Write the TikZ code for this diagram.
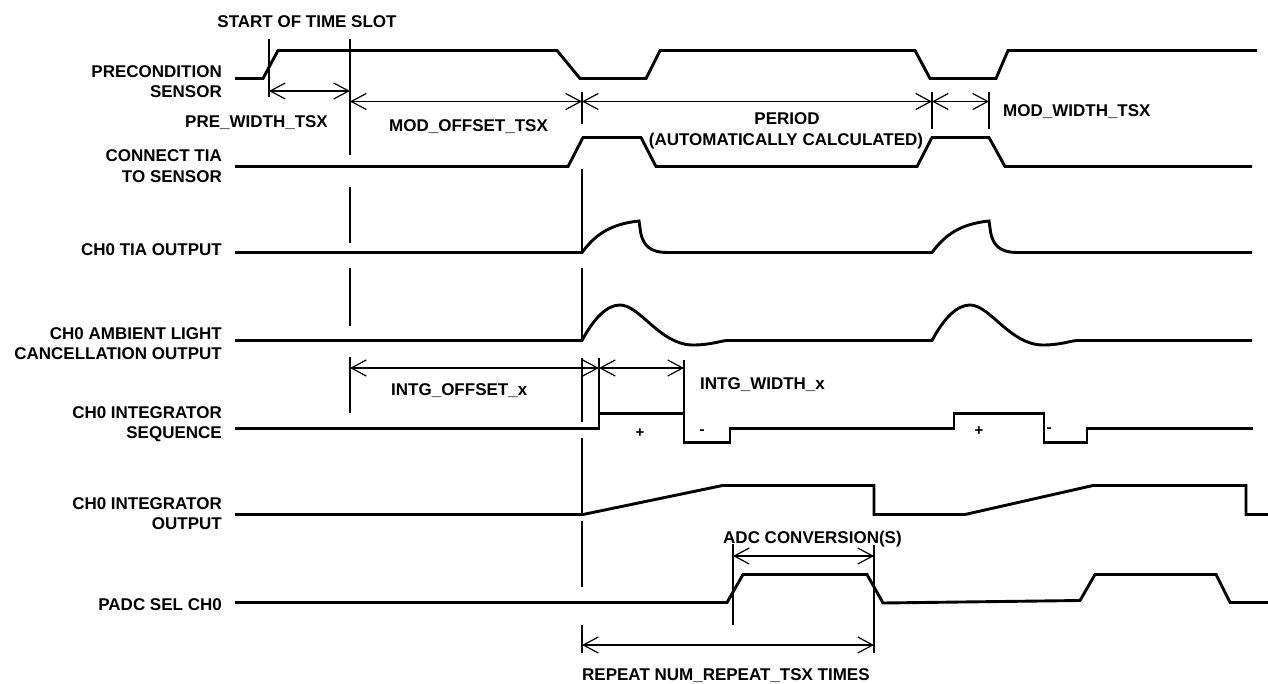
\documentclass[tikz,border=0pt]{standalone}
\usepackage{fontspec}
\setmainfont{Liberation Sans}
\usetikzlibrary{arrows.meta}
\begin{document}
\begin{tikzpicture}[x=1pt,y=-1pt,
  sig/.style={line width=2.9pt, line join=miter},
  thinline/.style={line width=1.2pt},
  dimline/.style={line width=1.2pt, {Straight Barb[length=15pt,width=16pt]}-{Straight Barb[length=15pt,width=16pt]}},
  lbl/.style={font=\fontsize{17}{20}\selectfont\bfseries, inner sep=0pt, anchor=base east},
  ann/.style={font=\fontsize{17}{20}\selectfont\bfseries, inner sep=0pt, anchor=base west},
  annc/.style={font=\fontsize{17}{20}\selectfont\bfseries, inner sep=0pt, anchor=base},
  sgn/.style={font=\fontsize{15}{17}\selectfont\bfseries, inner sep=0pt, anchor=center}]
\useasboundingbox (0,0) rectangle (1268,684);

% ---------- signal labels ----------
\node[lbl] (l1a) at (222,78) {PRECONDITION};
\node[lbl] (l1b) at (222,98) {SENSOR};
\node[lbl] (l2a) at (222,162) {CONNECT TIA};
\node[lbl] (l2b) at (222,183) {TO SENSOR};
\node[lbl] (l3)  at (222,256) {CH0 TIA OUTPUT};
\node[lbl] (l4a) at (222,339) {CH0 AMBIENT LIGHT};
\node[lbl] (l4b) at (222,359) {CANCELLATION OUTPUT};
\node[lbl] (l5a) at (222,418) {CH0 INTEGRATOR};
\node[lbl] (l5b) at (222,438) {SEQUENCE};
\node[lbl] (l6a) at (222,509) {CH0 INTEGRATOR};
\node[lbl] (l6b) at (222,529) {OUTPUT};
\node[lbl] (l7)  at (222,610) {PADC SEL CH0};

% ---------- waveforms ----------
% precondition sensor
\draw[sig] (235,78.5) -- (263,78.5) -- (278,50.5) -- (557,50.5) -- (580,78.5) -- (646,78.5) -- (660,50.5)
  -- (915,50.5) -- (930,78.5) -- (996,78.5) -- (1008,50.5) -- (1257,50.5);
% connect TIA to sensor
\draw[sig] (235,166.5) -- (568,166.5) -- (583,137.5) -- (641,137.5) -- (656,166.5) -- (917,166.5)
  -- (932,137.5) -- (989,137.5) -- (1005,166.5) -- (1252,166.5);
% CH0 TIA output
\draw[sig] (235,252.5) -- (582,252.5) .. controls (595,235) and (610,224) .. (639,221)
  -- (640,228) .. controls (642,246) and (650,252.5) .. (668,252.5) -- (932,252.5)
  .. controls (945,235) and (960,224) .. (989,221)
  -- (990,228) .. controls (992,246) and (1000,252.5) .. (1018,252.5) -- (1252,252.5);
% CH0 ambient light cancellation output
\draw[sig] (235,340.5) -- (582,340.5) .. controls (594,318) and (607,305) .. (620,305)
  .. controls (640,305) and (660,345) .. (693,345) .. controls (710,345) and (720,341) .. (727,340.5)
  -- (932,340.5) .. controls (944,318) and (957,305) .. (970,305)
  .. controls (990,305) and (1010,345) .. (1043,345) .. controls (1060,345) and (1070,341) .. (1077,340.5)
  -- (1252,340.5);
% CH0 integrator sequence
\draw[sig] (235,428.5) -- (599,428.5) -- (599,413.5) -- (684,413.5) -- (684,442.5) -- (730,442.5)
  -- (730,428.5) -- (954,428.5) -- (954,413.5) -- (1044,413.5) -- (1044,442.5) -- (1087,442.5)
  -- (1087,428.5) -- (1253,428.5);
% CH0 integrator output
\draw[sig] (235,514.5) -- (583,514.5) -- (722.5,485.5) -- (874,485.5) -- (874,514.5) -- (965,514.5)
  -- (1093,485.5) -- (1246,485.5) -- (1246,514.5) -- (1268,514.5);
% PADC SEL CH0
\draw[sig] (235,602.5) -- (727,602.5) -- (743,574.5) -- (867,574.5) -- (883,603) -- (1080,600.5)
  -- (1095,574.5) -- (1216,574.5) -- (1230,602.5) -- (1268,602.5);

% ---------- + / - marks ----------
\node[sgn] (p1) at (640,433) {+};
\node[sgn] (m1) at (702,432) {-};
\node[sgn] (p2) at (979,431) {+};
\node[sgn] (m2) at (1049,430) {-};

% ---------- reference lines ----------
\draw[thinline] (269,39) -- (269,97);
\draw[thinline] (350,39) -- (350,155);
\draw[thinline] (350,187) -- (350,243);
\draw[thinline] (350,268) -- (350,326);
\draw[thinline] (350,357) -- (350,413);
\draw[thinline] (582,92) -- (582,124);
\draw[thinline] (582,169) -- (582,252);
\draw[thinline] (582,268) -- (582,340);
\draw[thinline] (582,358) -- (582,422);
\draw[thinline] (582,438) -- (582,513);
\draw[thinline] (582,521) -- (582,587);
\draw[thinline] (582,625) -- (582,653);
\draw[thinline] (599,358) -- (599,412);
\draw[thinline] (684,360) -- (684,412);
\draw[thinline] (733,544) -- (733,625);
\draw[thinline] (874,545) -- (874,653);
\draw[thinline] (932,92) -- (932,129);
\draw[thinline] (989,92) -- (989,129);

% ---------- dimension arrows ----------
\coordinate (pw1) at (269,91);   \coordinate (pw2) at (350,91);
\coordinate (mo1) at (350,101.5); \coordinate (mo2) at (582,101.5);
\coordinate (pe2) at (932,101.5); \coordinate (mw2) at (989,101.5);
\coordinate (io1) at (350,368);  \coordinate (io2) at (599,368);
\coordinate (iw2) at (684,368);
\coordinate (ad1) at (733,556);  \coordinate (ad2) at (874,556);
\coordinate (rp1) at (582,645);  \coordinate (rp2) at (874,645);
\draw[dimline] (pw1) -- (pw2);
\draw[dimline] (mo1) -- (mo2);
\draw[dimline] (mo2) -- (pe2);
\draw[dimline] (pe2) -- (mw2);
\draw[dimline] (io1) -- (io2);
\draw[dimline] (io2) -- (iw2);
\draw[dimline] (ad1) -- (ad2);
\draw[dimline] (rp1) -- (rp2);

% ---------- annotations ----------
\node[annc] (tstart) at (307,28) {START OF TIME SLOT};
\node[annc] (tpre) at (256.5,128) {PRE\_WIDTH\_TSX};
\node[annc] (tmod) at (468.5,132) {MOD\_OFFSET\_TSX};
\node[annc] (tper1) at (787,125) {PERIOD};
\node[annc] (tper2) at (786,146) {(AUTOMATICALLY CALCULATED)};
\node[ann] (tmw) at (1003,117) {MOD\_WIDTH\_TSX};
\node[ann] (tio) at (391,395) {INTG\_OFFSET\_x};
\node[ann] (tiw) at (700,389) {INTG\_WIDTH\_x};
\node[ann] (tadc) at (723,543) {ADC CONVERSION(S)};
\node[ann] (trep) at (582,680) {REPEAT NUM\_REPEAT\_TSX TIMES};
\end{tikzpicture}
\end{document}
